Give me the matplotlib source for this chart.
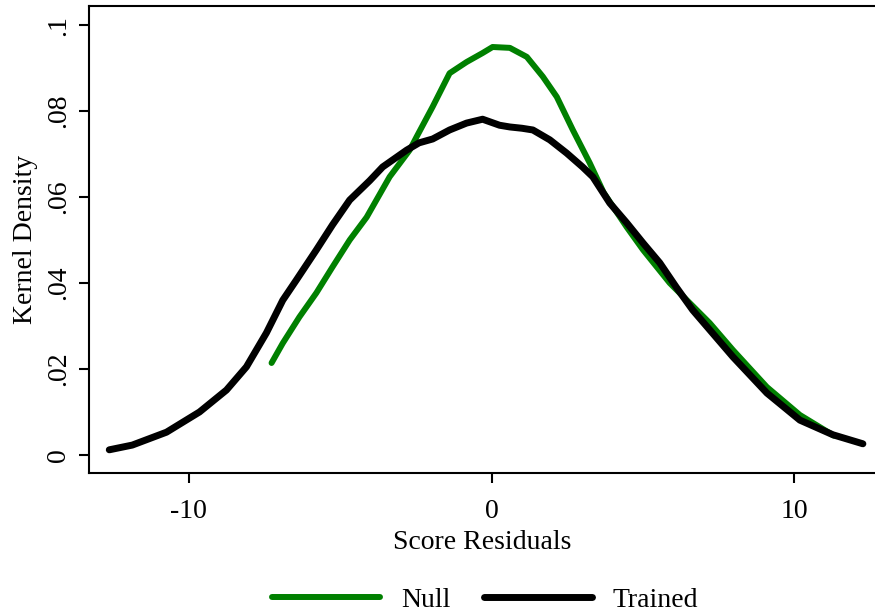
import matplotlib
matplotlib.use('Agg')
import matplotlib.pyplot as plt

# kernel density of score residuals
null_x = [-7.27, -6.9, -6.35, -5.79, -5.26, -4.69, -4.13, -3.37, -2.71, -2.48,
          -1.95, -1.39, -0.83, -0.3, 0.03, 0.6, 1.16, 1.69, 2.15, 2.68,
          3.24, 3.7, 4.46, 5.0, 5.88, 7.2, 7.97, 9.09, 10.18, 11.3]
null_y = [0.0214, 0.0260, 0.0321, 0.0377, 0.0437, 0.0500, 0.0553, 0.0647, 0.0709, 0.0740,
          0.0810, 0.0888, 0.0914, 0.0935, 0.0949, 0.0947, 0.0926, 0.0880, 0.0833, 0.0756,
          0.0679, 0.0610, 0.0530, 0.0477, 0.0400, 0.0307, 0.0244, 0.0158, 0.0093, 0.0045]

trained_x = [-12.63, -11.87, -10.74, -9.65, -8.76, -8.1, -7.44, -6.9, -6.45, -5.79,
             -5.26, -4.69, -4.03, -3.6, -2.81, -2.4, -1.95, -1.39, -0.83, -0.3,
             0.26, 0.6, 1.0, 1.36, 1.92, 2.48, 3.0, 3.34, 3.9, 4.46,
             5.0, 5.55, 6.1, 6.64, 7.97, 9.09, 10.18, 11.27, 12.26]
trained_y = [0.0012, 0.0023, 0.0053, 0.0100, 0.0151, 0.0205, 0.0284, 0.0360, 0.0407, 0.0477,
             0.0535, 0.0593, 0.0638, 0.0670, 0.0709, 0.0726, 0.0735, 0.0756, 0.0772, 0.0781,
             0.0767, 0.0763, 0.0760, 0.0756, 0.0733, 0.0702, 0.0670, 0.0647, 0.0586, 0.0540,
             0.0493, 0.0447, 0.0390, 0.0337, 0.0228, 0.0144, 0.0081, 0.0047, 0.0026]

x_ticks = [-10, 0, 10]
y_ticks = [0, 0.02, 0.04, 0.06, 0.08, 0.1]
y_tick_labels = ['0', '.02', '.04', '.06', '.08', '.1']

plt.rcParams['font.family'] = ['Liberation Serif', 'DejaVu Serif']
plt.rcParams['font.size'] = 20

fig = plt.figure(figsize=(8.75, 6.16), dpi=100)
ax = fig.add_axes([0.1017, 0.2321, 0.8983, 0.7579])

ax.plot(null_x, null_y, color='#008000', lw=4.3, solid_capstyle='round',
        solid_joinstyle='round', label='Null')
ax.plot(trained_x, trained_y, color='black', lw=5, solid_capstyle='round',
        solid_joinstyle='round', label='Trained')

ax.set_xlim(-13.3, 12.66)
ax.set_ylim(-0.0042, 0.1044)
ax.set_xticks(x_ticks)
ax.set_xticklabels([str(t) for t in x_ticks])
ax.set_yticks(y_ticks)
ax.set_yticklabels(y_tick_labels, rotation=90, va='center')

for side in ['left', 'bottom', 'top']:
    ax.spines[side].set_linewidth(1.5)
ax.spines['right'].set_visible(False)
ax.tick_params(length=7, width=1.5)
ax.tick_params(axis='x', pad=12)
ax.tick_params(axis='y', pad=6)

ax.set_xlabel('Score Residuals', labelpad=4)
ax.set_ylabel('Kernel Density', labelpad=6)

fig.legend(loc='center', bbox_to_anchor=(485 / 875, 16 / 616), ncol=2, frameon=False,
           handlelength=3.9, handletextpad=0.75, columnspacing=1.2, fontsize=20)

fig.savefig('out.png', dpi=100)
